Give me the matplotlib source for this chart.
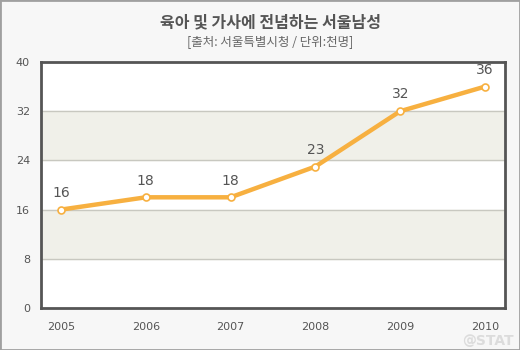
import matplotlib
matplotlib.use("Agg")
import matplotlib.pyplot as plt
from matplotlib.patches import Rectangle

plt.rcParams['font.family'] = ['Noto Sans CJK KR', 'DejaVu Sans']

years = ['2005', '2006', '2007', '2008', '2009', '2010']
values = [16, 18, 18, 23, 32, 36]
yticks = [0, 8, 16, 24, 32, 40]
title = '육아 및 가사에 전념하는 서울남성'
subtitle = '[출처: 서울특별시청 / 단위:천명]'

W, H = 520, 350
fig = plt.figure(figsize=(W/100, H/100), dpi=100)
fig.patch.set_facecolor('#f7f7f7')
fig.patches.append(Rectangle((0, 0), 1, 1, transform=fig.transFigure, fill=False,
                             edgecolor='#a0a0a0', linewidth=2))

l, r, t, b = 41, 505, 62, 308
ax = fig.add_axes([l/W, 1 - b/H, (r-l)/W, (b-t)/H])
ax.set_facecolor('white')
x = list(range(len(years)))
m = 0.236
ax.set_xlim(-m, len(years) - 1 + m)
ax.set_ylim(0, 40)

for i in range(len(yticks) - 1):
    if i % 2 == 1:
        ax.axhspan(yticks[i], yticks[i+1], color='#f0f0e9', zorder=0)
for yv in yticks[1:-1]:
    ax.axhline(yv, color='#c8c8c0', linewidth=1, zorder=1)

ax.plot(x, values, color='#f7b040', linewidth=3.2, zorder=3, solid_capstyle='round')
ax.plot(x, values, linestyle='none', marker='o', markersize=5, markerfacecolor='white',
        markeredgecolor='#f7b040', markeredgewidth=1.2, zorder=4)
for xi, v in zip(x, values):
    ax.annotate(str(v), (xi, v), xytext=(0, 7), textcoords='offset points',
                ha='center', va='bottom', fontsize=10, color='#555555', family='DejaVu Sans')

ax.set_xticks(x)
ax.set_xticklabels(years)
ax.set_yticks(yticks)
ax.tick_params(length=0, labelsize=8, colors='#555555', pad=10)
ax.tick_params(axis='y', pad=8)
for lab in ax.get_xticklabels() + ax.get_yticklabels():
    lab.set_family('DejaVu Sans')
for s in ax.spines.values():
    s.set_color('#555555')
    s.set_linewidth(2)

fig.text(270/W, 1 - 22/H, title, ha='center', va='center', fontsize=11.5,
         color='#555555', fontweight='bold')
fig.text(270/W, 1 - 43/H, subtitle, ha='center', va='center', fontsize=9, color='#666666')
fig.text(488/W, 1 - 341/H, '@STAT', ha='center', va='center', fontsize=10,
         color='#dcdcdc', fontweight='bold', family='DejaVu Sans', zorder=10)

fig.savefig('out.png', dpi=100, facecolor=fig.get_facecolor())
